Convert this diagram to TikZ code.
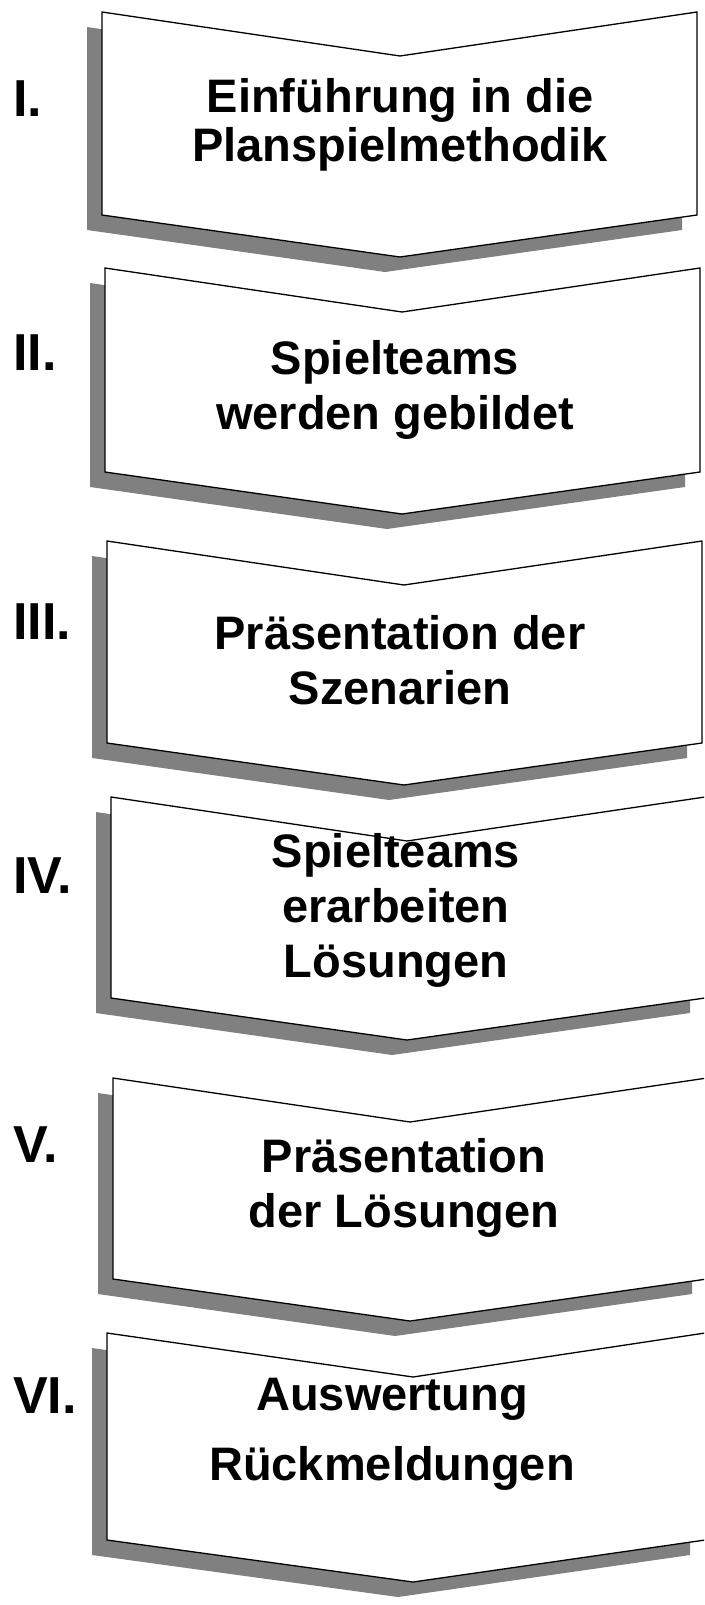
\documentclass[tikz,border=0pt]{standalone}
\usepackage{fontspec}
\setmainfont{Liberation Sans}

\begin{document}
\begin{tikzpicture}[x=1pt,y=-1pt,
	chevron/.style={draw=black,line width=1.3pt,fill=white,line join=miter},
	shade/.style={fill=black!50},
	steptext/.style={align=center,inner sep=0pt,font=\bfseries\fontsize{47}{55}\selectfont},
	stepnum/.style={anchor=base west,inner sep=0pt,font=\bfseries\fontsize{52}{52}\selectfont}
	]
	\useasboundingbox (0,0) rectangle (704,1605);
	\clip (0,0) rectangle (704,1605);
	\foreach \xl/\xr/\ya/\yb/\xc in {102/697/12/215/400,105/700/268/472/402,107/702/541/743/404,
		111/705/797/998/407,113/707/1078/1279/410,107/705/1333/1540/413}
	{
		\fill[shade,shift={(-15,15)}] (\xl,\ya) -- (\xc,\ya+44) -- (\xr,\ya) -- (\xr,\yb) -- (\xc,\yb+42) -- (\xl,\yb) -- cycle;
		\draw[chevron] (\xl,\ya) -- (\xc,\ya+44) -- (\xr,\ya) -- (\xr,\yb) -- (\xc,\yb+42) -- (\xl,\yb) -- cycle;
	}
	\node[steptext,font=\bfseries\fontsize{47}{49}\selectfont] (einf) at (400,125) {Einführung in die\\Planspielmethodik};
	\node[steptext] (teams) at (395,390) {Spielteams\\werden gebildet};
	\node[steptext] (szen) at (400,660) {Präsentation der\\Szenarien};
	\node[steptext] (loes) at (396,910) {Spielteams\\erarbeiten\\Lösungen};
	\node[steptext] (praes) at (404,1188) {Präsentation\\der Lösungen};
	\node[steptext,font=\bfseries\fontsize{47}{70}\selectfont] (ausw) at (392,1434) {Auswertung\\Rückmeldungen};
	\node[stepnum] (n1) at (13,117) {I.};
	\node[stepnum] (n2) at (13,370) {II.};
	\node[stepnum] (n3) at (13,639) {III.};
	\node[stepnum] (n4) at (13,893) {IV.};
	\node[stepnum] (n5) at (13,1162) {V.};
	\node[stepnum] (n6) at (13,1413) {VI.};
\end{tikzpicture}
\end{document}
